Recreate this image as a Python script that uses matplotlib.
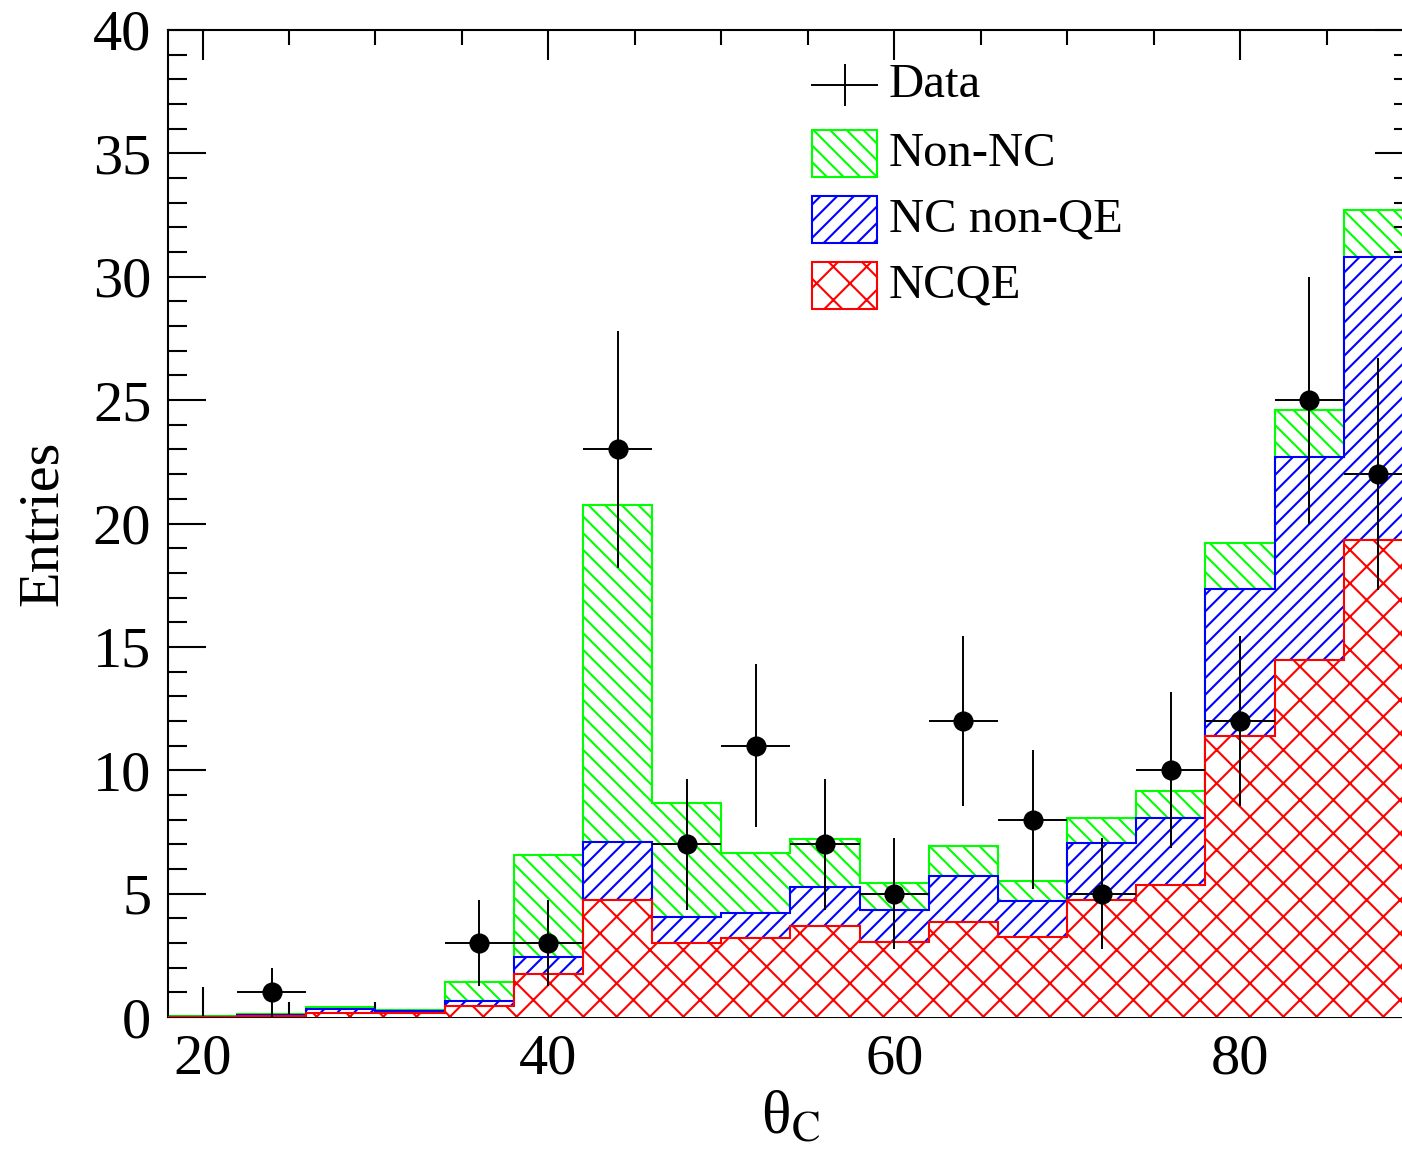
import numpy as np
import matplotlib
matplotlib.use("Agg")
from matplotlib import pyplot as plt
from matplotlib.patches import Rectangle
from matplotlib.ticker import MultipleLocator

plt.rcParams['font.family'] = ['Liberation Serif', 'DejaVu Serif']
plt.rcParams['mathtext.fontset'] = 'stix'
plt.rcParams['hatch.linewidth'] = 1.5

# bin edges 18..90 step 4
edges = [18, 22, 26, 30, 34, 38, 42, 46, 50, 54, 58, 62, 66, 70, 74, 78, 82, 86, 90]
centers = [20, 24, 28, 32, 36, 40, 44, 48, 52, 56, 60, 64, 68, 72, 76, 80, 84, 88]

# stacked totals
total_all = [0.03, 0.12, 0.42, 0.3, 1.42, 6.57, 20.75, 8.67, 6.65, 7.2, 5.45, 6.93,
             5.5, 8.06, 9.16, 19.2, 24.6, 32.7]           # NCQE + NC non-QE + Non-NC
total_nc = [0.02, 0.1, 0.31, 0.25, 0.66, 2.42, 7.08, 4.04, 4.23, 5.25, 4.33, 5.7,
            4.7, 7.05, 8.06, 17.35, 22.7, 30.8]            # NCQE + NC non-QE
ncqe = [0.01, 0.03, 0.15, 0.15, 0.46, 1.74, 4.74, 2.99, 3.19, 3.7, 3.03, 3.85,
        3.24, 4.74, 5.35, 11.39, 14.47, 19.33]

data = [0, 1, 0, 0, 3, 3, 23, 7, 11, 7, 5, 12, 8, 5, 10, 12, 25, 22]
data_err = [0, 1.0, 0, 0, 1.73, 1.73, 4.8, 2.65, 3.32, 2.65, 2.24, 3.46,
            2.83, 2.24, 3.16, 3.46, 5.0, 4.69]

fig = plt.figure(figsize=(14.02, 11.5), dpi=100)
ax = fig.add_axes([168 / 1402, 1 - 1017 / 1150, 1245 / 1402, 987 / 1150])

ax.stairs(total_all, edges, fill=True, facecolor='white', edgecolor='#00ff00',
          hatch='\\\\', linewidth=1.5, zorder=1)
ax.stairs(total_nc, edges, fill=True, facecolor='white', edgecolor='#0000ff',
          hatch='//', linewidth=1.5, zorder=2)
ax.stairs(ncqe, edges, fill=True, facecolor='white', edgecolor='#ff0000',
          hatch='x', linewidth=1.5, zorder=3)

d = np.array(data, dtype=float)
c = np.array(centers, dtype=float)
e = np.array(data_err)
m = d > 0
ax.errorbar(c[m], d[m], yerr=e[m], xerr=2, fmt='o', color='black', markersize=13.5,
            elinewidth=1.4, capsize=0, zorder=5)

ax.set_xlim(18, 90)
ax.set_ylim(0, 40)
ax.xaxis.set_major_locator(MultipleLocator(20))
ax.xaxis.set_minor_locator(MultipleLocator(5))
ax.yaxis.set_major_locator(MultipleLocator(5))
ax.yaxis.set_minor_locator(MultipleLocator(1))
ax.tick_params(axis='both', which='both', direction='in', top=True, right=True,
               width=1.5, labelsize=42)
ax.tick_params(axis='x', which='major', length=21.5, pad=12)
ax.tick_params(axis='x', which='minor', length=10.8)
ax.tick_params(axis='y', which='major', length=27.4, pad=12)
ax.tick_params(axis='y', which='minor', length=13.7)
for s in ax.spines.values():
    s.set_linewidth(1.5)

ax.set_xlabel('θ$_{\\mathrm{C}}$', fontsize=44, labelpad=4)
ax.set_ylabel('Entries', fontsize=42, labelpad=17)

# legend drawn by hand
tr = ax.transAxes
lx, lw, lh = 0.5173, 0.0522, 0.0476
ax.plot([lx, lx + lw], [0.9443, 0.9443], color='black', lw=1.4, transform=tr, zorder=6)
ax.plot([0.5438, 0.5438], [0.924, 0.9645], color='black', lw=1.4, transform=tr, zorder=6)
ax.text(0.579, 0.9443, 'Data', transform=tr, fontsize=35, va='center', ha='left')
leg = [(0.851, '#00ff00', '\\\\', 'Non-NC'),
       (0.7842, '#0000ff', '//', 'NC non-QE'),
       (0.7173, '#ff0000', 'x', 'NCQE')]
for y0, col, h, lab in leg:
    ax.add_patch(Rectangle((lx, y0), lw, lh, transform=tr, facecolor='white',
                           edgecolor=col, hatch=h, linewidth=1.5, zorder=6))
    ax.text(0.579, y0 + lh / 2, lab, transform=tr, fontsize=35, va='center', ha='left')

fig.savefig('out.png', dpi=100)
